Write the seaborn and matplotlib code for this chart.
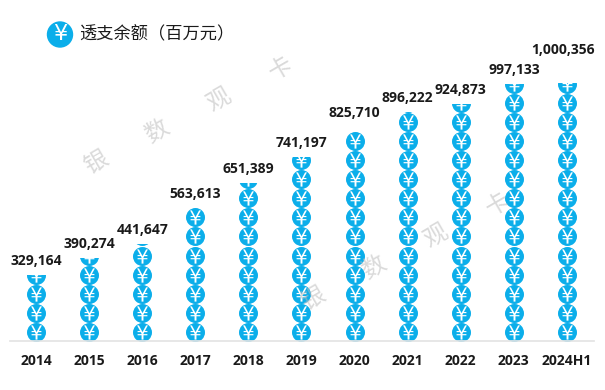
import matplotlib
matplotlib.use('Agg')
import matplotlib.pyplot as plt
from matplotlib.patches import Rectangle
import seaborn as sns
import pandas as pd
import numpy as np

years = ['2014', '2015', '2016', '2017', '2018', '2019', '2020', '2021', '2022', '2023', '2024H1']
values = [329164, 390274, 441647, 563613, 651389, 741197, 825710, 896222, 924873, 997133, 1000356]
# height of each stack, counted in coins
coins = [3.48, 4.37, 5.13, 7.0, 8.28, 9.64, 11.0, 12.03, 12.43, 13.48, 13.53]

blue = '#0BAEEA'
dark = '#1a1a1a'

sns.set_theme(style='white')
plt.rcParams['font.family'] = ['Noto Sans CJK SC', 'DejaVu Sans']

fig = plt.figure(figsize=(6.05, 3.9), dpi=100)
ax = fig.add_axes([10 / 605, 0.1244, 584 / 605, 0.8756])
ax.set_xlim(-0.49, 10.51)
ax.set_ylim(0, 17.88)
sns.despine(ax=ax, left=True, bottom=False, top=True, right=True)
ax.spines['bottom'].set_color('#e4e4e4')
ax.set_yticks([])
ax.set_xticks(range(len(years)))
ax.set_xticklabels(years, fontsize=10, fontweight='bold', color=dark, family='Open Sans')
ax.tick_params(axis='x', length=0, pad=9)

# stacks of coins, the last coin of a stack gets cut by the clip box
for i, (year, n) in enumerate(zip(years, coins)):
    df = pd.DataFrame({'x': i, 'y': np.arange(int(np.ceil(n))) + 0.5})
    box = Rectangle((i - 0.4, 0), 0.8, n, transform=ax.transData)
    sns.scatterplot(data=df, x='x', y='y', ax=ax, s=187, color=blue, linewidth=0, legend=False)
    sns.scatterplot(data=df, x='x', y='y', ax=ax, s=105, color='white', marker='$¥$', linewidth=0, legend=False)
    for coll in ax.collections[-2:]:
        coll.set_clip_path(box)

    # labels sit just over the stack, 2020 and 2024H1 are pushed up in the original
    dx, dy = 0, 10
    if year == '2020':
        dy = 13.5
    if year == '2024H1':
        dx, dy = -3, 24
    ax.annotate(f'{values[i]:,}', (i, n), xytext=(dx, dy), textcoords='offset points', ha='center', va='center',
                fontsize=10, fontweight='bold', color=dark, family='Open Sans', annotation_clip=False)
ax.set_xlabel('')
ax.set_ylabel('')

# legend at the top
fig.add_artist(plt.Circle((60, 390 - 34.5), 12.5, color=blue, transform=None, zorder=4))
fig.text(60 / 605, 1 - 34.5 / 390, '¥', ha='center', va='center', color='white', fontsize=16,
         zorder=5, family='DejaVu Sans')
fig.text(79 / 605, 1 - 34.5 / 390, '透支余额（百万元）', ha='left', va='center', fontsize=12.4, color=dark)

# watermarks
for x0, y0 in [(96, 163), (313, 299)]:
    for k, ch in enumerate('银数观卡'):
        fig.text((x0 + k * 61.5) / 605, 1 - (y0 - k * 31.3) / 390, ch, rotation=30, ha='center', va='center',
                 fontsize=17, color='#bbbbbb', alpha=0.55, zorder=10)

fig.savefig('out.png', dpi=100)
